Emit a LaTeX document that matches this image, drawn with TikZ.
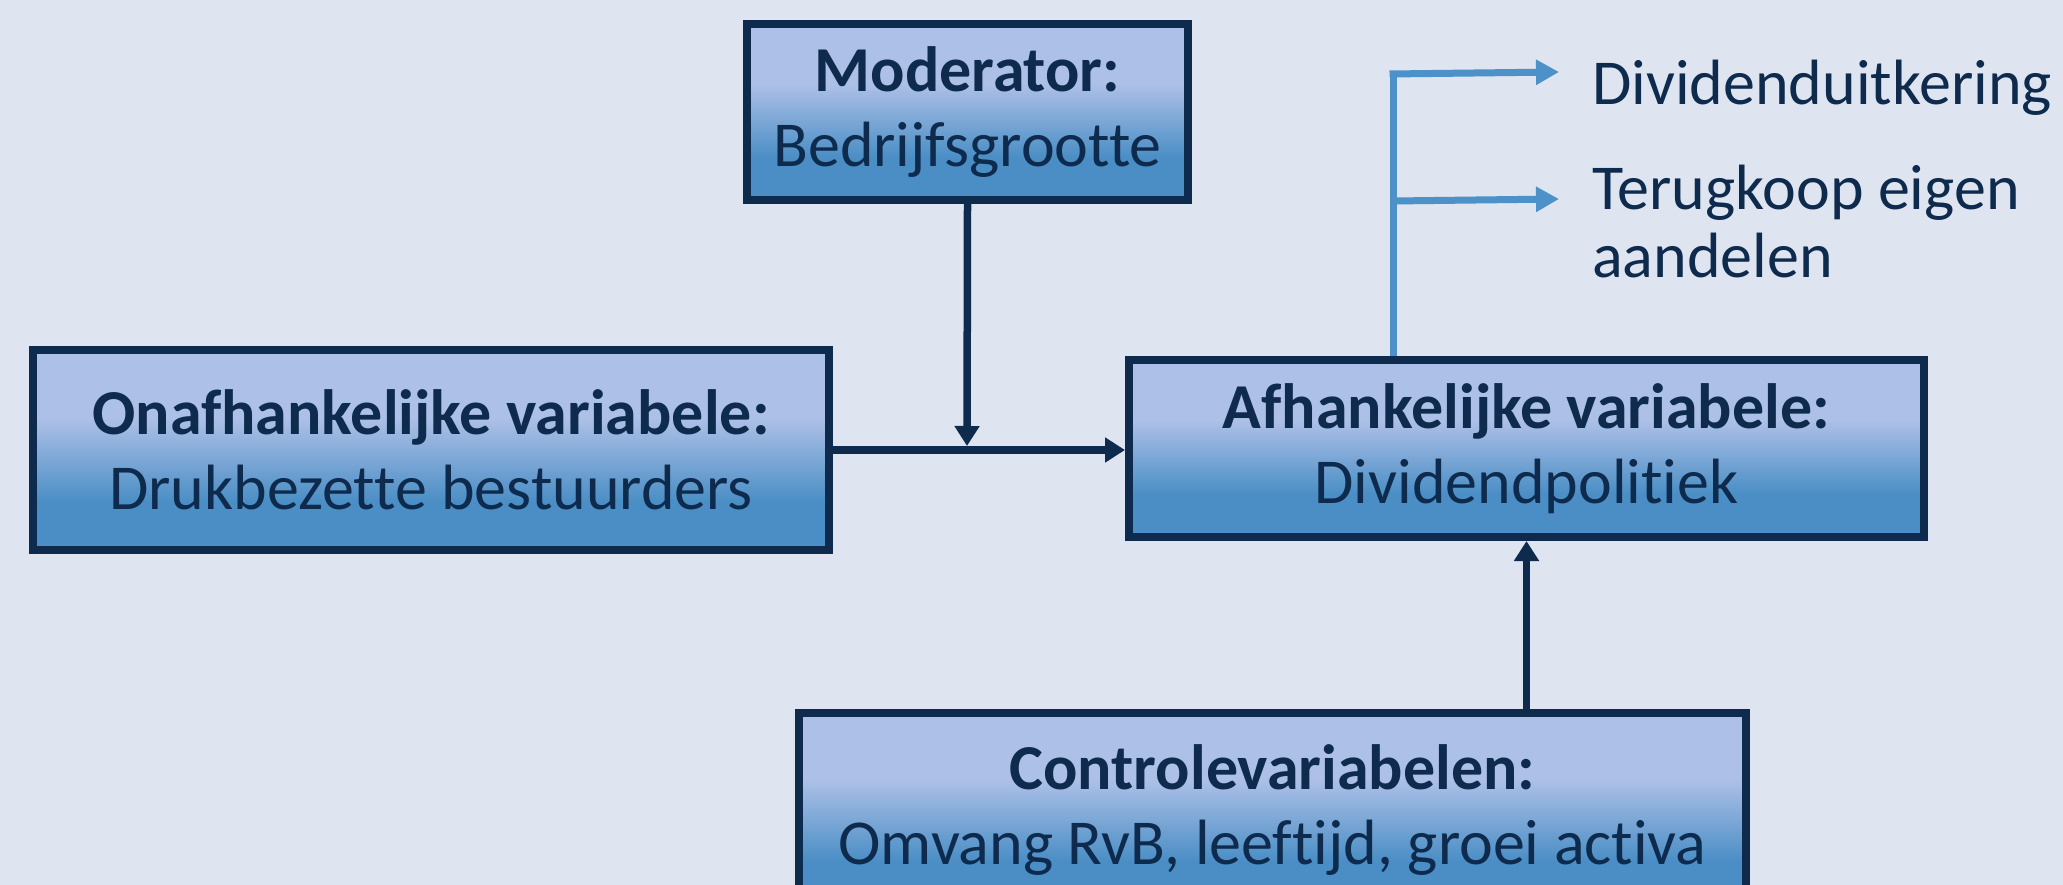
\documentclass[tikz,border=0pt]{standalone}
\usepackage{fontspec}
\setmainfont{Carlito}[RawFeature={-liga;-clig;-calt}]
\usetikzlibrary{arrows.meta}
\definecolor{bgc}{RGB}{222,229,240}
\definecolor{navy}{RGB}{14,43,78}
\definecolor{topc}{RGB}{173,192,231}
\definecolor{botc}{RGB}{74,142,197}
\definecolor{lineblue}{RGB}{76,145,200}
\pgfdeclareverticalshading{boxshade}{100bp}{color(0bp)=(botc); color(37bp)=(botc); color(58bp)=(topc); color(100bp)=(topc)}
\tikzset{
  varbox/.style={draw=navy, line width=8pt, shading=boxshade, text=navy, align=center,
    font=\fontsize{64}{75}\selectfont, inner sep=0pt},
  darr/.style={draw=navy, line width=7.5pt, -{Triangle[length=20pt,width=24pt]}},
  barr/.style={draw=lineblue, line width=7pt, -{Triangle[length=23pt,width=24pt]}},
  outtext/.style={text=navy, font=\fontsize{64}{68}\selectfont, inner sep=0pt, align=left}
}
\begin{document}
\begin{tikzpicture}[x=1pt,y=-1pt]
\useasboundingbox (0,0) rectangle (2063,885);
\clip (0,0) rectangle (2063,885);
\fill[bgc] (0,0) rectangle (2063,885);
\node[varbox, minimum width=441pt, minimum height=176pt] (mod) at (967.5,112) {\textbf{Moderator:}\\Bedrijfsgrootte};
\node[varbox, minimum width=796pt, minimum height=200pt] (onaf) at (431,450) {\textbf{Onafhankelijke variabele:}\\Drukbezette bestuurders};
\node[varbox, minimum width=795pt, minimum height=177pt] (afh) at (1526.5,448.5) {\textbf{Afhankelijke variabele:}\\Dividendpolitiek};
\node[varbox, minimum width=947pt, minimum height=195pt] (ctrl) at (1272.5,810.5) {\textbf{Controlevariabelen:}\\Omvang RvB, leeftijd, groei activa};
\node[outtext, anchor=base west] (div) at (1592,105) {Dividenduitkering};
\node[outtext, anchor=base west] (ter) at (1592,277) {Terugkoop eigen\\aandelen};
\coordinate (m) at (967,446);
\coordinate (br) at (1393,74);
\coordinate (e1) at (1559,72);
\coordinate (j2) at (1393,201);
\coordinate (e2) at (1559,199);
\draw[darr] (onaf.east) -- (afh.west |- onaf.east);
\draw[darr] (mod.south) -- (m);
\draw[darr] (ctrl.north -| afh.south) -- (afh.south);
\draw[draw=lineblue, line width=7pt] (afh.north -| br) -- (br);
\draw[barr] ([xshift=-3.5pt]br) -- (e1);
\draw[barr] (j2) -- (e2);
\end{tikzpicture}
\end{document}
